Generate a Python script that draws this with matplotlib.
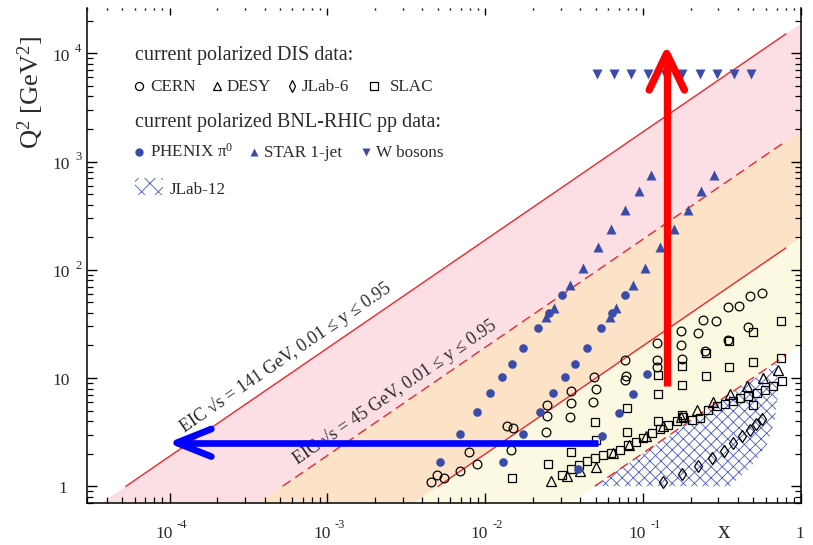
import numpy as np
import matplotlib
matplotlib.use("Agg")
import matplotlib.pyplot as plt
import matplotlib.transforms as mtransforms
from matplotlib.patches import Polygon, Rectangle
from matplotlib.lines import Line2D
from matplotlib.ticker import LogLocator, NullFormatter

plt.rcParams["font.family"] = ["Liberation Serif", "DejaVu Serif"]
plt.rcParams["mathtext.fontset"] = "custom"
plt.rcParams["mathtext.rm"] = "Liberation Serif"
plt.rcParams["mathtext.it"] = "Liberation Serif:italic"
plt.rcParams["hatch.linewidth"] = 0.6

# ---------------- data ----------------
# EIC kinematic coverage: Q^2 = x * s * y
eic_sqrt_s = [141.0, 45.0]          # GeV
eic_y_range = [0.01, 0.95]

# polarized DIS data
cern_x = [0.00455, 0.00497, 0.00547, 0.00695, 0.00785, 0.00891, 0.0138, 0.0150, 0.01465,
          0.0246, 0.0246, 0.0244, 0.0348, 0.0348, 0.0343, 0.0489, 0.0501, 0.0482,
          0.0769, 0.0780, 0.0762, 0.1216, 0.1216, 0.1227, 0.1726, 0.1734, 0.1752,
          0.2213, 0.240, 0.289, 0.246, 0.343, 0.404, 0.475, 0.563, 0.343, 0.463]
cern_q2 = [1.10, 1.28, 1.18, 1.37, 2.08, 1.59, 3.58, 3.46, 2.14,
           5.65, 4.43, 3.18, 7.65, 5.89, 4.34, 10.2, 7.93, 5.97,
           14.8, 10.4, 9.52, 21.1, 14.8, 12.7, 27.4, 20.3, 15.1,
           26.3, 34.6, 33.9, 17.9, 45.0, 46.3, 56.8, 61.1, 22.6, 29.4]

desy_x = [0.0262, 0.0327, 0.0397, 0.0501, 0.0645, 0.0815, 0.104, 0.134, 0.1734,
          0.218, 0.278, 0.355, 0.453, 0.577, 0.718]
desy_q2 = [1.11, 1.24, 1.38, 1.51, 2.03, 2.43, 2.94, 3.58, 4.37,
           5.11, 6.02, 7.18, 8.51, 10.1, 11.96]

jlab6_x = [0.1333, 0.175, 0.223, 0.274, 0.323, 0.372, 0.4245, 0.472, 0.521, 0.566]
jlab6_q2 = [1.09, 1.29, 1.53, 1.81, 2.10, 2.53, 2.92, 3.28, 3.74, 4.20]

slac_x = [0.01485, 0.0248, 0.0348, 0.0499, 0.0500, 0.0796, 0.0796, 0.1234, 0.1234, 0.1245,
          0.175, 0.175, 0.175, 0.249, 0.249, 0.3495, 0.3495, 0.498, 0.498, 0.498,
          0.747, 0.747,
          0.0306, 0.0347, 0.0391, 0.0438, 0.0494, 0.0558, 0.0630, 0.0712, 0.0803, 0.0899,
          0.100, 0.113, 0.1276, 0.144, 0.163, 0.1794, 0.2027, 0.229, 0.258, 0.292,
          0.330, 0.371, 0.410, 0.463, 0.524, 0.591, 0.667, 0.754]
slac_q2 = [1.20, 1.59, 2.06, 3.93, 2.70, 5.30, 3.20, 10.7, 7.07, 3.98,
           13.0, 8.69, 4.59, 17.1, 10.5, 22.2, 12.6, 26.4, 14.0, 5.68,
           33.9, 15.3,
           1.26, 1.43, 1.56, 1.71, 1.84, 1.94, 2.05, 2.18, 2.38, 2.56,
           2.80, 3.11, 3.39, 3.71, 4.00, 4.37, 4.13, 4.28, 5.11, 5.48,
           5.77, 6.18, 6.55, 6.78, 7.28, 7.81, 8.51, 9.32]

# polarized BNL-RHIC pp data
phenix_x = [0.00519, 0.00695, 0.00886, 0.01077, 0.01276, 0.01485, 0.01745, 0.0216, 0.02535, 0.0306,
            0.01295, 0.01734, 0.02213, 0.02703, 0.0320, 0.0371, 0.0440, 0.0539, 0.0633, 0.0769,
            0.0387, 0.0545, 0.0704, 0.0864, 0.106]
phenix_q2 = [1.68, 3.02, 4.86, 7.28, 10.2, 13.6, 19.0, 29.0, 39.9, 58.5,
             1.68, 3.02, 4.86, 7.28, 10.2, 13.6, 19.0, 29.0, 39.9, 58.5,
             1.45, 2.90, 4.76, 7.13, 10.9]

star_x = [0.0244, 0.0272, 0.0343, 0.0413, 0.0514, 0.0624, 0.0769, 0.0939, 0.1114,
          0.0615, 0.0678, 0.0864, 0.103, 0.128, 0.1566, 0.193, 0.233, 0.2795]
star_q2 = [36.5, 44.7, 72.8, 104.5, 161, 238, 359, 537, 755,
           36.5, 44.7, 72.8, 104.5, 161, 238, 359, 537, 755]

wboson_x = [0.0508, 0.0652, 0.0836, 0.1076, 0.138, 0.177, 0.228, 0.292, 0.377, 0.482]
wboson_q2 = [6464] * 10

# JLab 12 GeV coverage (outline)
jlab12_x = [0.049, 0.701, 0.715, 0.684, 0.609, 0.489, 0.355]
jlab12_q2 = [1.0, 13.6, 7.02, 4.13, 2.43, 1.55, 1.0]

# arrows: reach in Q^2 (red) and towards low x (blue)
red_arrow_x = 0.141
red_arrow_q2 = [8.4, 1.0e4]
red_arrow_head = [0.1092, 0.1826, 4600.0]
blue_arrow_x = [0.0516, 1.11e-4]
blue_arrow_q2 = 2.52
blue_arrow_head = [1.84e-4, 3.38, 1.88]

x_tick_exps = [-4, -3, -2, -1, 0]
y_tick_exps = [0, 1, 2, 3, 4]

# ---------------- figure ----------------
W, H = 813, 545
fig = plt.figure(figsize=(W / 100, H / 100), dpi=100)
ax = fig.add_axes([87 / W, 1 - 503 / H, (801 - 87) / W, (503 - 8) / H])
ax.set_xscale("log")
ax.set_yscale("log")
ax.set_xlim(3e-5, 1.0)
ax.set_ylim(0.7, 2.63e4)

text_col = "#2b2b2b"
blue_mk = "#3a4ca8"
line_red = "#e8282c"
pink = "#fcdfe5"
peach = "#fce3c8"
yellow = "#fbf9e1"

# coverage bands
xx = np.logspace(np.log10(3e-5), 0, 400)
k141_hi = eic_sqrt_s[0] ** 2 * eic_y_range[1]
k141_lo = eic_sqrt_s[0] ** 2 * eic_y_range[0]
k45_hi = eic_sqrt_s[1] ** 2 * eic_y_range[1]
k45_lo = eic_sqrt_s[1] ** 2 * eic_y_range[0]
ax.fill_between(xx, k45_hi * xx, k141_hi * xx, color=pink, lw=0, zorder=0)
ax.fill_between(xx, k141_lo * xx, k45_hi * xx, color=peach, lw=0, zorder=0)
ax.fill_between(xx, k45_lo * xx, k141_lo * xx, color=yellow, lw=0, zorder=0)

for k, ls in [(k141_hi, "-"), (k45_hi, "--"), (k141_lo, "-"), (k45_lo, "--")]:
    xl = np.array([1.0 / k, 0.8])
    ln, = ax.plot(xl, k * xl, color=line_red, lw=1.0, ls=ls, zorder=1)
    if ls == "--":
        ln.set_dashes((7, 4))

# JLab-12 hatched region
ax.add_patch(Polygon(np.column_stack([jlab12_x, jlab12_q2]), closed=True,
                     facecolor="none", edgecolor="#4658c0", lw=0, hatch="xxx", zorder=1.5))

# data markers
open_kw = dict(ls="none", mfc="none", mec="black", mew=0.9, zorder=3)
ax.plot(cern_x, cern_q2, marker="o", ms=6.3, **open_kw)
ax.plot(desy_x, desy_q2, marker="^", ms=6.5, **open_kw)
ax.plot(jlab6_x, jlab6_q2, marker="d", ms=6.0, **open_kw)
ax.plot(slac_x, slac_q2, marker="s", ms=5.8, **open_kw)
fill_kw = dict(ls="none", color=blue_mk, mec="none", zorder=3)
ax.plot(phenix_x, phenix_q2, marker="o", ms=6.2, **fill_kw)
ax.plot(star_x, star_q2, marker="^", ms=7.0, **fill_kw)
ax.plot(wboson_x, wboson_q2, marker="v", ms=7.0, **fill_kw)

# arrows
ax.plot([red_arrow_x, red_arrow_x], red_arrow_q2, color="#ff0000", lw=5.3,
        solid_capstyle="butt", zorder=6)
ax.plot([red_arrow_head[0], red_arrow_x, red_arrow_head[1]],
        [red_arrow_head[2], red_arrow_q2[1], red_arrow_head[2]], color="#ff0000", lw=5.3,
        solid_capstyle="round", solid_joinstyle="round", zorder=6)
ax.plot(blue_arrow_x, [blue_arrow_q2, blue_arrow_q2], color="#0000ff", lw=4.8,
        solid_capstyle="butt", zorder=6)
ax.plot([blue_arrow_head[0], blue_arrow_x[1], blue_arrow_head[0]],
        [blue_arrow_head[1], blue_arrow_q2, blue_arrow_head[2]], color="#0000ff", lw=4.8,
        solid_capstyle="round", solid_joinstyle="round", zorder=6)

# labels along the EIC lines
fig.canvas.draw()


def line_angle(k):
    p1 = ax.transData.transform((1e-4, k * 1e-4))
    p2 = ax.transData.transform((1e-1, k * 1e-1))
    return np.degrees(np.arctan2(p2[1] - p1[1], p2[0] - p1[0]))


ax.text(1.24e-4, 1.24e-4 * k141_hi * 1.33, "EIC \u221as = 141 GeV, 0.01 \u2264 y \u2264 0.95",
        rotation=line_angle(k141_hi), rotation_mode="anchor", ha="left", va="baseline",
        fontsize=13, color=text_col, zorder=4)
ax.text(6.49e-4, 6.49e-4 * k45_hi * 1.26, "EIC \u221as = 45 GeV, 0.01 \u2264 y \u2264 0.95",
        rotation=line_angle(k45_hi), rotation_mode="anchor", ha="left", va="baseline",
        fontsize=13, color=text_col, zorder=4)

# axes styling
for side in ["left", "bottom", "right"]:
    ax.spines[side].set_linewidth(1.1)
ax.spines["top"].set_visible(False)
ax.xaxis.set_major_locator(LogLocator(base=10, numticks=20))
ax.xaxis.set_minor_locator(LogLocator(base=10, subs=np.arange(2, 10), numticks=20))
ax.yaxis.set_major_locator(LogLocator(base=10, numticks=20))
ax.yaxis.set_minor_locator(LogLocator(base=10, subs=np.arange(2, 10), numticks=20))
for a in (ax.xaxis, ax.yaxis):
    a.set_major_formatter(NullFormatter())
    a.set_minor_formatter(NullFormatter())
ax.tick_params(which="both", direction="in", top=False, right=True, color="black")
ax.tick_params(which="major", length=7, width=1.0)
ax.tick_params(which="minor", length=4, width=0.9)

sec = ax.secondary_xaxis("top")
sec.spines["top"].set_visible(False)
sec.xaxis.set_major_locator(LogLocator(base=10, numticks=20))
sec.xaxis.set_minor_locator(LogLocator(base=10, subs=np.arange(2, 10), numticks=20))
sec.xaxis.set_major_formatter(NullFormatter())
sec.xaxis.set_minor_formatter(NullFormatter())
sec.tick_params(which="both", direction="in", color="black")
sec.tick_params(which="major", length=5, width=1.0)
sec.tick_params(which="minor", length=1.5, width=1.0)

# tick labels, base and exponent drawn separately
tick_fs, exp_fs = 12.5, 9


def off(base, dx, dy):
    return mtransforms.offset_copy(base, fig=fig, x=dx, y=dy, units="dots")


xt = ax.get_xaxis_transform()
for e in x_tick_exps:
    v = 10.0 ** e
    if e == 0:
        ax.text(v, 0, "1", transform=off(xt, -1, -35), ha="center", va="baseline",
                fontsize=tick_fs, color=text_col, clip_on=False)
    else:
        ax.text(v, 0, "10", transform=off(xt, 3, -35), ha="right", va="baseline",
                fontsize=tick_fs, color=text_col, clip_on=False)
        ax.text(v, 0, "-%d" % (-e), transform=off(xt, 7, -25), ha="left", va="baseline",
                fontsize=exp_fs, color=text_col, clip_on=False)

yt = ax.get_yaxis_transform()
for e in y_tick_exps:
    v = 10.0 ** e
    if e == 0:
        ax.text(0, v, "1", transform=off(yt, -20, -6.6), ha="right", va="baseline",
                fontsize=tick_fs, color=text_col, clip_on=False)
    elif e == 1:
        ax.text(0, v, "10", transform=off(yt, -17, -7.4), ha="right", va="baseline",
                fontsize=tick_fs, color=text_col, clip_on=False)
    else:
        ax.text(0, v, "10", transform=off(yt, -17, -7.4), ha="right", va="baseline",
                fontsize=tick_fs, color=text_col, clip_on=False)
        ax.text(0, v, "%d" % e, transform=off(yt, -12, 1.3), ha="left", va="baseline",
                fontsize=exp_fs, color=text_col, clip_on=False)

# axis titles
fig.text(31 / W, 1 - 92 / H, "Q$^2$ [GeV$^2$]", rotation=90, ha="center", va="center",
         fontsize=19, color=text_col)
fig.text(724 / W, 1 - 538 / H, "x", ha="center", va="baseline", fontsize=18, color=text_col)

# legend block
def fx(px):
    return px / W


def fy(py):
    return 1 - py / H


head_fs, item_fs = 14.5, 12.3
fig.text(fx(135), fy(60), "current polarized DIS data:", fontsize=head_fs, color=text_col,
         va="baseline")
fig.text(fx(135), fy(126.7), "current polarized BNL-RHIC pp data:", fontsize=head_fs,
         color=text_col, va="baseline")

legend_open = [("o", 139, "CERN", 150), ("^", 217, "DESY", 227),
               ("d", 292, "JLab-6", 302), ("s", 374, "SLAC", 390)]
for mk, mx, lab, tx in legend_open:
    fig.add_artist(Line2D([fx(mx)], [fy(86)], marker=mk, ms=5.8, mfc="none", mec="black",
                          mew=0.9, ls="none", transform=fig.transFigure))
    fig.text(fx(tx), fy(90.7), lab, fontsize=item_fs, color=text_col, va="baseline")

legend_fill = [("o", 139, "PHENIX \u03c0$^0$", 150), ("^", 254, "STAR 1-jet", 264),
               ("v", 366, "W bosons", 376)]
for mk, mx, lab, tx in legend_fill:
    fig.add_artist(Line2D([fx(mx)], [fy(151.5)], marker=mk, ms=6.0, color=blue_mk, mec="none",
                          ls="none", transform=fig.transFigure))
    fig.text(fx(tx), fy(156.7), lab, fontsize=item_fs, color=text_col, va="baseline")

fig.add_artist(Rectangle((fx(135), fy(195)), (163 - 135) / W, (195 - 178) / H,
                         facecolor="none", edgecolor="#4658c0", lw=0, hatch="xx",
                         transform=fig.transFigure))
fig.text(fx(170), fy(194), "JLab-12", fontsize=item_fs, color=text_col, va="baseline")

fig.savefig("out.png", dpi=100)
